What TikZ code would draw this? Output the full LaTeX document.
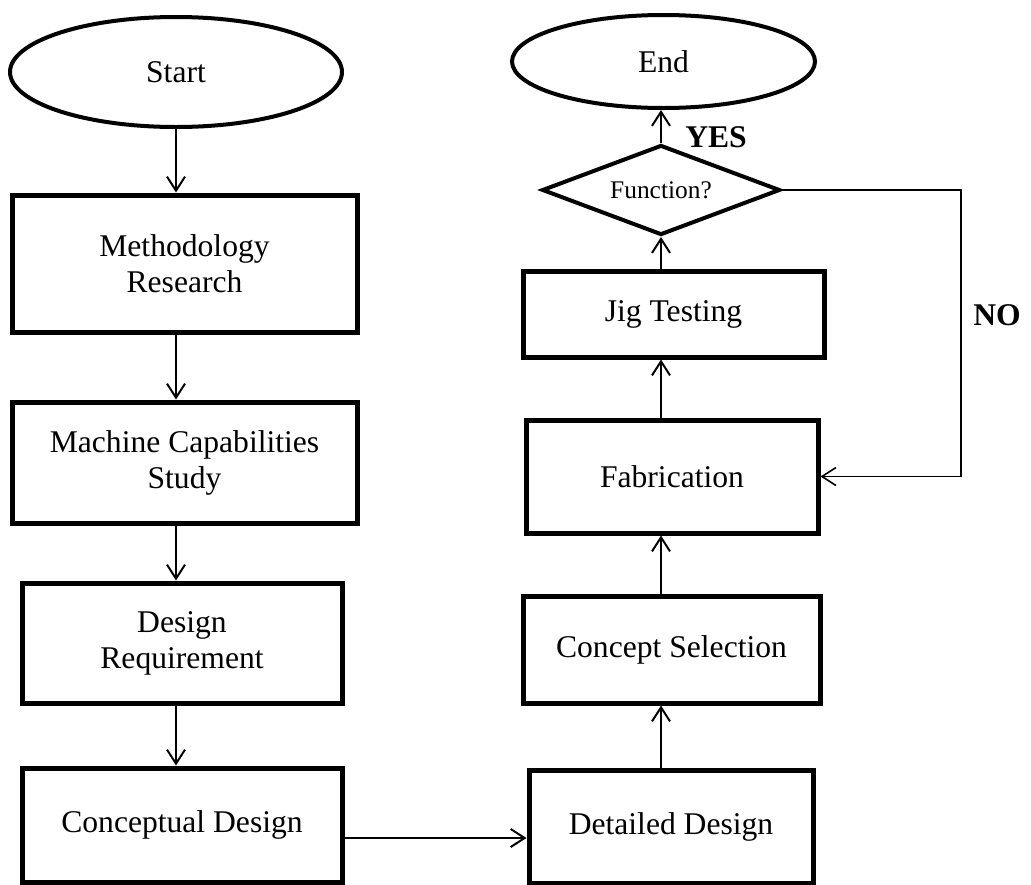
\documentclass[tikz,border=0pt]{standalone}
\usepackage{fontspec}
\setmainfont{Liberation Serif}
\usetikzlibrary{shapes.geometric,arrows.meta}

\begin{document}
\begin{tikzpicture}[x=0.5pt, y=-0.5pt, >={Straight Barb[length=7pt,width=9pt]},
	box/.style={draw, rectangle, line width=2.5pt, align=center, inner sep=0pt,
		font=\fontsize{15.8}{18}\selectfont},
	terminal/.style={draw, ellipse, line width=2pt, inner sep=0pt,
		font=\fontsize{15.8}{18}\selectfont},
	decision/.style={draw, diamond, aspect=2.64, line width=2pt, inner sep=0pt,
		font=\fontsize{12.7}{15}\selectfont},
	flow/.style={->, line width=1pt}]
		
		\useasboundingbox (0,0) rectangle (1031,884);
		
		% left column
		\node [terminal, minimum width=166pt, minimum height=55pt] (start) at (176,72) {Start};
		\node [box, minimum width=172.5pt, minimum height=68.5pt] (method) at (184.5,263.5) {Methodology\\Research};
		\node [box, minimum width=172.5pt, minimum height=60.5pt] (machine) at (184.5,462.5) {Machine Capabilities\\Study};
		\node [box, minimum width=160pt, minimum height=60pt] (req) at (182,643) {Design\\Requirement};
		\node [box, minimum width=160pt, minimum height=57pt] (concept) at (182,825) {Conceptual Design};
		
		% right column
		\node [box, minimum width=142pt, minimum height=56.5pt] (detail) at (671,826.5) {Detailed Design};
		\node [box, minimum width=148.5pt, minimum height=53.5pt] (select) at (671.5,649.5) {Concept Selection};
		\node [box, minimum width=146pt, minimum height=56.5pt] (fab) at (672,476.5) {Fabrication};
		\node [box, minimum width=150.5pt, minimum height=43pt] (jig) at (673.5,314) {Jig Testing};
		\node [decision, minimum width=119pt, minimum height=45pt] (func) at (661,190) {Function?};
		\node [terminal, minimum width=151.5pt, minimum height=46.5pt] (stop) at (663.5,61.5) {End};
		
		\foreach \a/\b in {start/method, method/machine, machine/req, req/concept}
		\draw [flow] (\a.south -| start) -- (\b.north -| start);
		
		\draw [flow] ([yshift=-6.5pt]concept.east) -- ([yshift=-6.5pt]concept.east -| detail.west);
		
		\foreach \a/\b in {detail/select, select/fab, fab/jig, jig/func, func/stop}
		\draw [flow] (\a.north -| func) -- (\b.south -| func);
		
		\draw [->, line width=0.8pt] (func.east) -- ++(179,0) |- (fab.east);
		
		\node [font=\fontsize{15.8}{18}\selectfont\bfseries] (yes) at (716,137) {YES};
		\node [font=\fontsize{15.8}{18}\selectfont\bfseries] (no) at (997,315) {NO};

		\end{tikzpicture}
\end{document}
